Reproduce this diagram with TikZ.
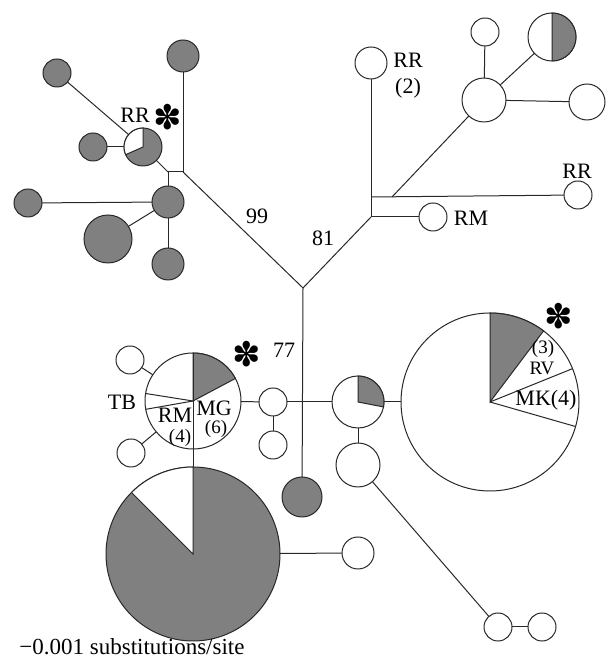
\documentclass[tikz,border=0pt]{standalone}
\usepackage{fontspec}
\setmainfont{Liberation Serif}
\newfontfamily\starfont{DejaVu Sans}
\definecolor{hapgrey}{RGB}{128,128,128}
\definecolor{linegrey}{RGB}{40,40,40}

\begin{document}
\begin{tikzpicture}[x=1pt,y=1pt]


\tikzset{vert/.style = {circle, draw=linegrey, line width=1pt, inner sep=0pt, outer sep=0pt, fill=white},
         gvert/.style = {vert, fill=hapgrey},
         edge/.style = {draw=linegrey, line width=1pt},
         wedge/.style = {fill=hapgrey, draw=linegrey, line width=1pt},
         lab/.style = {font=\fontsize{22}{24}\selectfont, inner sep=0pt},
         slab/.style = {font=\fontsize{19}{21}\selectfont, inner sep=0pt},
         star/.style = {font=\starfont\fontsize{34}{36}\selectfont, inner sep=0pt}}

\useasboundingbox (0,0) rectangle (607,668);

% grey group
\node[gvert, minimum size=28pt] (g1) at (57,595) {};
\node[gvert, minimum size=32pt] (g2) at (183,612) {};
\node[gvert, minimum size=38pt] (rr) at (143,521) {};
\node[gvert, minimum size=28pt] (g3) at (93,521) {};
\node[gvert, minimum size=32pt] (g4) at (168,466) {};
\node[gvert, minimum size=28pt] (g5) at (28,465) {};
\node[gvert, minimum size=48pt] (g6) at (108,429) {};
\node[gvert, minimum size=32pt] (g7) at (168,404) {};
\coordinate (ja) at (168,496);
\coordinate (jb) at (183,496);
\coordinate (jc) at (303,380);

% upper right group
\node[vert, minimum size=32pt] (w1) at (371,605) {};
\node[vert, minimum size=28pt] (w2) at (433,451) {};
\node[vert, minimum size=28pt] (w3) at (578,473) {};
\node[vert, minimum size=44pt] (w4) at (484,568) {};
\node[vert, minimum size=28pt] (w5) at (485,636) {};
\node[vert, minimum size=48pt] (h1) at (552,631) {};
\node[vert, minimum size=36pt] (w6) at (587,566) {};
\coordinate (jd) at (371,451);
\coordinate (je) at (371,471);
\coordinate (jf) at (392,471);

% lower group
\node[vert, minimum size=96pt] (mg) at (193,267) {};
\node[vert, minimum size=28pt] (w7) at (130,308) {};
\node[vert, minimum size=28pt] (w8) at (131,215) {};
\node[vert, minimum size=28pt] (w9) at (273,266) {};
\node[vert, minimum size=28pt] (w10) at (273,223) {};
\node[gvert, minimum size=174pt] (gp) at (193,114) {};
\node[gvert, minimum size=40pt] (g8) at (302,171) {};
\node[vert, minimum size=32pt] (w11) at (358,115) {};
\node[vert, minimum size=52pt] (sp) at (358,266) {};
\node[vert, minimum size=44pt] (w12) at (358,203) {};
\node[vert, minimum size=28pt] (w13) at (498,41) {};
\node[vert, minimum size=28pt] (w14) at (542,41) {};
\node[vert, minimum size=178pt] (bp) at (490,266) {};

% pie slices
\filldraw[wedge, fill=white] (rr.center) -- (rr.90) arc[start angle=90, end angle=204, radius=19pt] -- cycle;
\filldraw[wedge] (h1.center) -- (h1.-90) arc[start angle=-90, end angle=90, radius=24pt] -- cycle;
\filldraw[wedge] (mg.center) -- (mg.28) arc[start angle=28, end angle=90, radius=48pt] -- cycle;
\draw[edge] (mg.90) -- (mg.270);
\draw[edge] (mg.center) -- (mg.190);
\draw[edge] (mg.center) -- (mg.171);
\filldraw[wedge, fill=white] (gp.center) -- (gp.90) arc[start angle=90, end angle=135, radius=87pt] -- cycle;
\filldraw[wedge] (sp.center) -- (sp.-11) arc[start angle=-11, end angle=90, radius=26pt] -- cycle;
\filldraw[wedge] (bp.center) -- (bp.53) arc[start angle=53, end angle=90, radius=89pt] -- cycle;
\draw[edge] (bp.center) -- (bp.22);
\draw[edge] (bp.center) -- (bp.-16);

% edges
\draw[edge] (g1) -- (rr);
\draw[edge] (rr) -- (ja);
\draw[edge] (g3) -- (rr);
\draw[edge] (ja) -- (jb);
\draw[edge] (g2) -- (jb);
\draw[edge] (ja) -- (g4);
\draw[edge] (g4) -- (g5);
\draw[edge] (g4) -- (g6);
\draw[edge] (g4) -- (g7);
\draw[edge] (jb) -- (jc);
\draw[edge] (jc) -- (jd);
\draw[edge] (jd) -- (w1);
\draw[edge] (jd) -- (w2);
\draw[edge] (je) -- (w3);
\draw[edge] (jf) -- (w4);
\draw[edge] (w4) -- (w5);
\draw[edge] (w4) -- (h1);
\draw[edge] (w4) -- (w6);
\draw[edge] (jc) -- (g8);
\draw[edge] (mg) -- (w7);
\draw[edge] (mg) -- (w8);
\draw[edge] (mg) -- (w9);
\draw[edge] (w9) -- (w10);
\draw[edge] (w9) -- (sp);
\draw[edge] (sp) -- (bp);
\draw[edge] (sp) -- (w12);
\draw[edge] (w12) -- (w13);
\draw[edge] (w13) -- (w14);
\draw[edge] (mg) -- (gp);
\draw[edge] (gp) -- (w11);

% labels
\node[lab] (l1) at (135,553) {RR};
\node[star] (s1) at (168,551) {✽};
\node[lab] (l2) at (257,452) {99};
\node[lab] (l3) at (323,430) {81};
\node[lab] (l4) at (284,318) {77};
\node[lab] (l5) at (408,608) {RR};
\node[lab] (l6) at (408,580) {(2)};
\node[lab] (l7) at (471,450) {RM};
\node[lab] (l8) at (577,497) {RR};
\node[star] (s2) at (247,314) {✽};
\node[lab] (l9) at (122,266) {TB};
\node[lab] (l10) at (175,253) {RM};
\node[slab] (l11) at (180,230) {(4)};
\node[lab] (l12) at (214,260) {MG};
\node[slab] (l13) at (216,239) {(6)};
\node[slab] (l14) at (543,319) {(3)};
\node[slab] (l15) at (542,300) {RV};
\node[lab] (l16) at (546,268) {MK(4)};
\node[star] (s3) at (559,352) {✽};
\node[font=\fontsize{23}{25}\selectfont, inner sep=0pt] (scale) at (132,21) {−0.001 substitutions/site};

\end{tikzpicture}
\end{document}
